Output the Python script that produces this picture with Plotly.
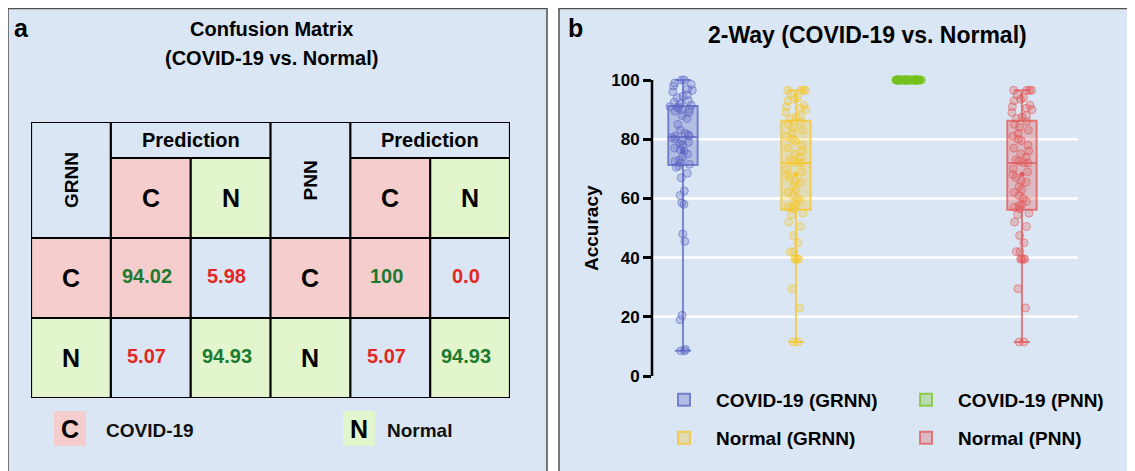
import plotly.graph_objects as go
import numpy as np

# the page body adds an 8px margin on the left/top; the figure fills the rest
OFF = 8
W, H = 1135 - OFF, 471 - OFF

# ---------------- data ----------------
MODELS = ["GRNN", "PNN"]
CLASS_CODES = ["C", "N"]
CLASS_NAMES = ["COVID-19", "Normal"]
GRNN_CM_TEXT = [["94.02", "5.98"], ["5.07", "94.93"]]
PNN_CM_TEXT = [["100", "0.0"], ["5.07", "94.93"]]
HEADER_TEXT = "Prediction"

BOX_CATEGORIES = ["COVID-19 (GRNN)", "Normal (GRNN)", "COVID-19 (PNN)", "Normal (PNN)"]
covid_grnn = [100, 100, 99, 98.5, 98, 97, 96.5, 96, 95, 94.5, 94, 93, 92.5, 92, 91.5,
              91, 91, 90.5, 90, 90, 89.5, 89, 88, 87, 85, 83, 82, 81.5, 81, 81,
              80.5, 80, 79.5, 79, 78.5, 78, 77, 76.5, 76, 75, 74, 73, 72.5, 72, 71.5,
              71, 70.5, 68.5, 67, 62.5, 61, 58.5, 58, 48, 45.5, 20.5, 19, 9, 8.5, 8.5]
normal_grnn = [96.5, 96.5, 96.5, 96.5, 95, 94, 93.5, 93, 91.5, 91, 90.5, 90, 89, 88,
               87.5, 87, 86, 85, 84, 83, 82, 81, 80, 79.5, 78, 77, 76, 75, 74, 73,
               72.5, 72, 72, 70, 69, 68, 67, 66, 65.5, 64, 63, 62, 61, 60, 59, 58,
               57.5, 57, 56.5, 55, 54.5, 52, 50.5, 47.5, 45, 42, 42, 39.5, 39.5,
               39.5, 39.5, 29.5, 23, 11.5, 11.5]
covid_pnn = [100] * 60
normal_pnn = list(normal_grnn)
BOX_VALUES = [covid_grnn, normal_grnn, covid_pnn, normal_pnn]
Y_TICKS = [0, 20, 40, 60, 80, 100]
GRID_VALUES = [20, 40, 60, 80]

# ---------------- styles ----------------
FONT = "Liberation Sans Narrow, Arial Narrow, Liberation Sans, Arial, sans-serif"
FONT_REG = "Liberation Sans, Arial, sans-serif"
PANEL_BG = "#dae6f3"
PINK = "#f5cdcc"
GREEN_BG = "#e3f5cc"
TXT_GREEN = "#1d7a32"
TXT_RED = "#e2281f"
BOX_RGB = ["90,100,195", "245,198,40", "120,195,30", "225,85,85"]
LEGEND_ID = ["legend", "legend2", "legend", "legend2"]
LEGEND_RANK = [1, 3, 2, 4]


def px(x):
    return (x - OFF) / W


def py(y):
    return 1 - (y - OFF) / H


def ann(x, y, text, size, color="black", family=FONT, xanchor="center", angle=0,
        xref="paper", yref="paper"):
    return dict(xref=xref, yref=yref, x=x, y=y, text=text, showarrow=False,
                xanchor=xanchor, yanchor="middle", textangle=angle,
                font=dict(family=family, size=size, color=color, weight="bold"))


fig = go.Figure()
shapes = []
annotations = []

# panel backgrounds / borders
for x0, x1 in [(8, 547), (559, 1145)]:
    shapes.append(dict(type="rect", xref="paper", yref="paper",
                       x0=px(x0), x1=px(x1), y0=py(485), y1=py(8.5),
                       fillcolor=PANEL_BG, line=dict(color="#505050", width=1.5),
                       layer="below"))

# ---------------- panel a: confusion matrices ----------------
row_edges = [0, 0.45, 1.45, 2.45, 3.45]
col_edges = list(range(7))
z = []
for r in range(4):
    row = []
    for m in range(len(MODELS)):
        for c in range(3):
            if r == 0:
                v = 0
            elif r == 1:
                v = 0 if c == 0 else c
            else:
                i = r - 2
                if c == 0:
                    v = i + 1
                else:
                    v = (i + 1) if (c - 1) == i else 0
            row.append(v)
    z.append(row)

fig.add_trace(go.Heatmap(
    z=z, x=col_edges, y=row_edges, xaxis="x2", yaxis="y2",
    zmin=0, zmax=2,
    colorscale=[[0, PANEL_BG], [0.3333, PANEL_BG], [0.3334, PINK],
                [0.6666, PINK], [0.6667, GREEN_BG], [1, GREEN_BG]],
    showscale=False, hoverinfo="skip"))

LW = 2.2
def seg(x0, y0, x1, y1):
    shapes.append(dict(type="line", xref="x2", yref="y2", x0=x0, y0=y0, x1=x1, y1=y1,
                       line=dict(color="black", width=LW), layer="above"))

seg(0, 0, 6, 0)
seg(0, 3.45, 6, 3.45)
for xv in [0, 1, 3, 4, 6]:
    seg(xv, 0, xv, 3.45)
for xv in [2, 5]:
    seg(xv, 0.45, xv, 3.45)
for xa in [1, 4]:
    seg(xa, 0.45, xa + 2, 0.45)
seg(0, 1.45, 6, 1.45)
seg(0, 2.45, 6, 2.45)

for m, (model, cm_text) in enumerate(zip(MODELS, [GRNN_CM_TEXT, PNN_CM_TEXT])):
    base = m * 3
    annotations.append(ann(base + 0.5, 0.725, model, 19, angle=-90, xref="x2", yref="y2"))
    annotations.append(ann(base + 2, 0.225, HEADER_TEXT, 20, xref="x2", yref="y2"))
    for j, code in enumerate(CLASS_CODES):
        annotations.append(ann(base + 1.5 + j, 0.95, code, 25, xref="x2", yref="y2"))
        annotations.append(ann(base + 0.5, 1.95 + j, code, 25, xref="x2", yref="y2"))
    for i in range(2):
        for j in range(2):
            annotations.append(ann(base + 1.45 + j, 1.93 + i, cm_text[i][j], 20,
                                   color=TXT_GREEN if i == j else TXT_RED,
                                   xref="x2", yref="y2"))

# panel a legend
for (sx, tx), code, name, col in zip([(54, 104), (343, 385)], CLASS_CODES, CLASS_NAMES,
                                      [PINK, GREEN_BG]):
    shapes.append(dict(type="rect", xref="paper", yref="paper",
                       x0=px(sx), x1=px(sx + 32), y0=py(446), y1=py(411),
                       fillcolor=col, line=dict(width=0), layer="below"))
    annotations.append(ann(px(sx + 16), py(429), code, 25))
    annotations.append(ann(px(tx), py(430), name, 19, color="#111", xanchor="left"))

annotations.append(ann(px(12), py(28), "a", 25, family=FONT_REG, xanchor="left"))
annotations.append(ann(px(271), py(29), "Confusion Matrix", 20))
annotations.append(ann(px(271), py(58), "(COVID-19 vs. Normal)", 20))

# ---------------- panel b: box plots ----------------
for k, (cat, vals, rgb) in enumerate(zip(BOX_CATEGORIES, BOX_VALUES, BOX_RGB)):
    fig.add_trace(go.Box(
        y=vals, x=[cat] * len(vals), name=cat, width=0.26, boxpoints=False,
        fillcolor=f"rgba({rgb},0.3)", line=dict(color=f"rgba({rgb},0.75)", width=2),
        whiskerwidth=0.55, legend=LEGEND_ID[k], legendrank=LEGEND_RANK[k],
        hoverinfo="skip"))
    fig.add_trace(go.Box(
        y=vals, x=[cat] * len(vals), name=cat, width=0.26, boxpoints="all",
        jitter=0.9, pointpos=0, fillcolor="rgba(0,0,0,0)",
        line=dict(color=f"rgba({rgb},0)", width=0), whiskerwidth=0,
        marker=dict(size=8, color=f"rgba({rgb},0.28)",
                    line=dict(color=f"rgba({rgb},0.55)", width=1)),
        showlegend=False, hoverinfo="skip"))

means = [float(np.mean(v)) for v in BOX_VALUES]
fig.add_trace(go.Scatter(
    x=BOX_CATEGORIES[:2] + BOX_CATEGORIES[3:], y=means[:2] + means[3:], mode="markers",
    marker=dict(size=5, color=[f"rgba({BOX_RGB[i]},0.95)" for i in (0, 1, 3)]),
    showlegend=False, hoverinfo="skip"))

for g in GRID_VALUES:
    shapes.append(dict(type="line", xref="paper", yref="y", x0=px(652), x1=px(1078),
                       y0=g, y1=g, line=dict(color="white", width=2.5), layer="below"))
shapes.append(dict(type="line", xref="paper", yref="y", x0=px(652), x1=px(652),
                   y0=Y_TICKS[0], y1=Y_TICKS[-1], line=dict(color="black", width=2.5),
                   layer="above"))

annotations.append(ann(px(566), py(28), "b", 25, family=FONT_REG, xanchor="left"))
annotations.append(ann(px(868), py(35), "2-Way (COVID-19 vs. Normal)", 23))
annotations.append(ann(px(591), py(228), "Accuracy", 19, angle=-90))

leg_common = dict(orientation="h", entrywidth=173, entrywidthmode="pixels",
                  itemwidth=54,
                  bgcolor="rgba(0,0,0,0)", xanchor="left", yanchor="middle",
                  font=dict(family=FONT, size=19, color="black", weight="bold"))

fig.update_layout(
    width=W, height=H,
    margin=dict(l=0, r=0, t=0, b=0, pad=0, autoexpand=False),
    paper_bgcolor="white", plot_bgcolor="rgba(0,0,0,0)",
    boxmode="overlay",
    showlegend=True,
    legend=dict(x=px(652), y=py(400), **leg_common),
    legend2=dict(x=px(652), y=py(438), **leg_common),
    xaxis=dict(domain=[px(652), px(1078)], type="category",
               categoryorder="array", categoryarray=BOX_CATEGORIES,
               range=[-0.274, 3.496], showticklabels=False, showgrid=False,
               zeroline=False, showline=False, ticks=""),
    yaxis=dict(domain=[py(376), py(72.6)], range=[0, 102.5], tickvals=Y_TICKS,
               showgrid=False, zeroline=False, showline=False,
               ticks="outside", ticklen=8, tickwidth=2.5, tickcolor="black",
               tickfont=dict(family=FONT, size=17, color="black", weight="bold")),
    xaxis2=dict(domain=[px(31), px(510)], range=[0, 6], visible=False, anchor="y2"),
    yaxis2=dict(domain=[py(398), py(122)], range=[3.45, 0], visible=False, anchor="x2"),
    shapes=shapes, annotations=annotations,
)

fig.write_html("out.html")
